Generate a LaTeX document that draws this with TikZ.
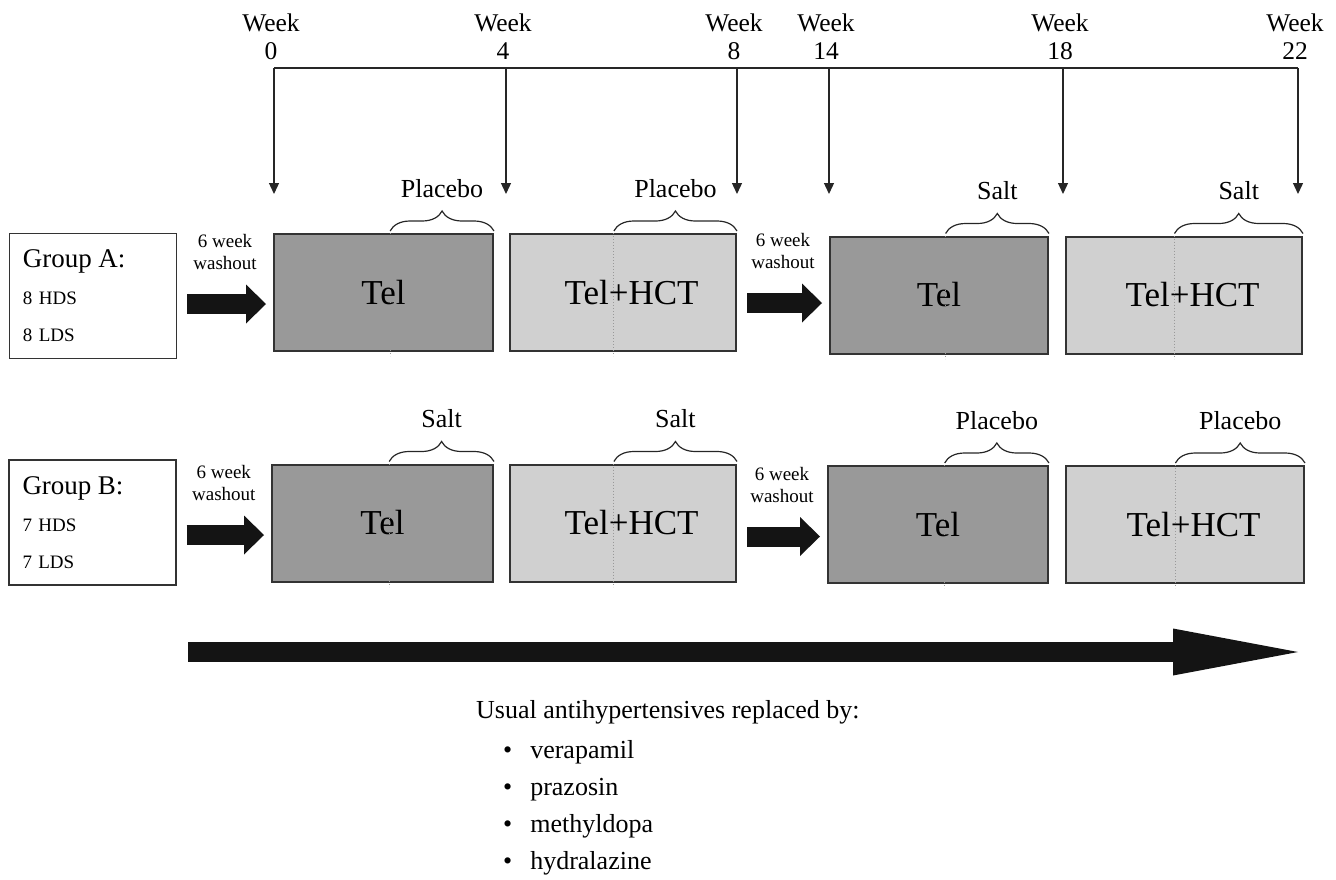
\documentclass[tikz,border=0pt]{standalone}
\usepackage{fontspec}
\setmainfont{Liberation Serif}
\usetikzlibrary{calc,positioning,arrows.meta,decorations.pathreplacing}
\definecolor{teldark}{RGB}{153,153,153}
\definecolor{hctlight}{RGB}{208,208,208}
\definecolor{edgegray}{RGB}{51,51,51}
\definecolor{blockblack}{RGB}{20,20,20}
\tikzset{
  grpbox/.style={draw=edgegray, line width=1.2pt, fill=white, minimum width=167pt, minimum height=125pt,
    text width=140pt, align=left, font=\fontsize{19}{37}\selectfont},
  telbox/.style={draw=edgegray, line width=2pt, fill=teldark, minimum height=117pt, font=\fontsize{35}{40}\selectfont},
  hctbox/.style={telbox, fill=hctlight},
  washout/.style={line width=20pt, blockblack, -{Triangle[length=20pt, width=39pt, line width=0pt]},
    shorten <=10pt, shorten >=7pt},
  washlbl/.style={midway, above=24pt, inner sep=0pt, align=center, black, font=\fontsize{19}{22}\selectfont},
  runarrow/.style={line width=20pt, blockblack, -{Triangle[length=125pt, width=47pt, line width=0pt]}},
  timeline/.style={line width=1.3pt, draw=black!85},
  weekarrow/.style={timeline, -{Triangle[length=11pt, width=10pt]}},
  wklabel/.style={align=center, inner sep=0pt, font=\fontsize{25.5}{28}\selectfont},
  curly/.style={decorate, decoration={brace, amplitude=20pt}, line width=1.2pt, draw=black!85},
  bracelbl/.style={midway, above=33pt, inner sep=0pt, font=\fontsize{26}{28}\selectfont},
  divider/.style={draw=black!40, dotted, line width=1pt},
  notes/.style={align=left, inner sep=0pt, font=\fontsize{26}{37}\selectfont}
}
\begin{document}
\begin{tikzpicture}[x=1pt, y=-1pt]
  \useasboundingbox (0,0) rectangle (1336,879);

  % week scale
  \coordinate (t0) at (274,68);
  \coordinate (t4) at (506,68);
  \coordinate (t8) at (737,68);
  \coordinate (t14) at (829,68);
  \coordinate (t18) at (1063,68);
  \coordinate (t22) at (1298,68);
  \coordinate (tipline) at (0,194);
  \node[wklabel, above=8pt of t0, xshift=-3pt] (wk0) {Week\\0};
  \node[wklabel, above=8pt of t4, xshift=-3pt] (wk4) {Week\\4};
  \node[wklabel, above=8pt of t8, xshift=-3pt] (wk8) {Week\\8};
  \node[wklabel, above=8pt of t14, xshift=-3pt] (wk14) {Week\\14};
  \node[wklabel, above=8pt of t18, xshift=-3pt] (wk18) {Week\\18};
  \node[wklabel, above=8pt of t22, xshift=-3pt] (wk22) {Week\\22};
  \draw[timeline] (t0) -- (t22);
  \draw[weekarrow] (t0) -- (t0 |- tipline);
  \draw[weekarrow] (t4) -- (t4 |- tipline);
  \draw[weekarrow] (t8) -- (t8 |- tipline);
  \draw[weekarrow] (t14) -- (t14 |- tipline);
  \draw[weekarrow] (t18) -- (t18 |- tipline);
  \draw[weekarrow] (t22) -- (t22 |- tipline);

  % group A
  \node[grpbox] (grpA) at (93,296) {{\fontsize{27}{37}\selectfont Group A:}\\8 HDS\\8 LDS};
  \node[telbox, minimum width=219pt] (telA1) at (383.5,292.5) {Tel};
  \node[hctbox, minimum width=226pt, right=15pt of telA1] (hctA1) {\hspace*{17pt}Tel+HCT};
  \node[telbox, minimum width=218pt] (telA2) at (939,295) {Tel};
  \node[hctbox, minimum width=236pt, right=16pt of telA2] (hctA2) {\hspace*{17pt}Tel+HCT};
  \draw[washout] ([yshift=-8pt]grpA.east) -- ([yshift=-11.5pt]telA1.west) node[washlbl] {6 week\\washout};
  \draw[washout] ([yshift=-10.5pt]hctA1.east) -- ([yshift=-8pt]telA2.west) node[washlbl] {6 week\\washout};

  % group B
  \node[grpbox] (grpB) at (92.5,522.5) {{\fontsize{27}{37}\selectfont Group B:}\\7 HDS\\7 LDS};
  \node[telbox, minimum width=221pt] (telB1) at (382.5,523) {Tel};
  \node[hctbox, minimum width=226pt, right=15pt of telB1] (hctB1) {\hspace*{17pt}Tel+HCT};
  \node[telbox, minimum width=220pt] (telB2) at (938,524.5) {Tel};
  \node[hctbox, minimum width=238pt, right=16pt of telB2] (hctB2) {\hspace*{17pt}Tel+HCT};
  \draw[washout] ([yshift=-12.5pt]grpB.east) -- ([yshift=-12pt]telB1.west) node[washlbl] {6 week\\washout};
  \draw[washout] ([yshift=-13.5pt]hctB1.east) -- ([yshift=-12pt]telB2.west) node[washlbl] {6 week\\washout};

  % split points of each period
  \coordinate (sA1) at ($(telA1.north west)!0.53!(telA1.north east)$);
  \coordinate (dA1) at ($(hctA1.north west)!0.46!(hctA1.north east)$);
  \coordinate (sA2) at ($(telA2.north west)!0.53!(telA2.north east)$);
  \coordinate (dA2) at ($(hctA2.north west)!0.46!(hctA2.north east)$);
  \coordinate (sB1) at ($(telB1.north west)!0.53!(telB1.north east)$);
  \coordinate (dB1) at ($(hctB1.north west)!0.46!(hctB1.north east)$);
  \coordinate (sB2) at ($(telB2.north west)!0.53!(telB2.north east)$);
  \coordinate (dB2) at ($(hctB2.north west)!0.46!(hctB2.north east)$);
  \draw[divider] (sA1) -- ($(sA1 |- telA1.south)+(0,4)$);
  \draw[divider] (dA1) -- ($(dA1 |- hctA1.south)+(0,4)$);
  \draw[divider] (sA2) -- ($(sA2 |- telA2.south)+(0,4)$);
  \draw[divider] (dA2) -- ($(dA2 |- hctA2.south)+(0,4)$);
  \draw[divider] (sB1) -- ($(sB1 |- telB1.south)+(0,4)$);
  \draw[divider] (dB1) -- ($(dB1 |- hctB1.south)+(0,4)$);
  \draw[divider] (sB2) -- ($(sB2 |- telB2.south)+(0,4)$);
  \draw[divider] (dB2) -- ($(dB2 |- hctB2.south)+(0,4)$);

  % braces
  \draw[curly] ([yshift=2pt]sA1) -- ([yshift=2pt]telA1.north east) node[bracelbl] {Placebo};
  \draw[curly] ([yshift=2pt]dA1) -- ([yshift=2pt]hctA1.north east) node[bracelbl] {Placebo};
  \draw[curly] ([yshift=2pt]sA2) -- ([yshift=2pt]telA2.north east) node[bracelbl] {Salt};
  \draw[curly] ([yshift=2pt]dA2) -- ([yshift=2pt]hctA2.north east) node[bracelbl] {Salt};
  \draw[curly] ([yshift=2pt]sB1) -- ([yshift=2pt]telB1.north east) node[bracelbl] {Salt};
  \draw[curly] ([yshift=2pt]dB1) -- ([yshift=2pt]hctB1.north east) node[bracelbl] {Salt};
  \draw[curly] ([yshift=2pt]sB2) -- ([yshift=2pt]telB2.north east) node[bracelbl] {Placebo};
  \draw[curly] ([yshift=2pt]dB2) -- ([yshift=2pt]hctB2.north east) node[bracelbl] {Placebo};

  % time arrow
  \coordinate (runS) at (188,652);
  \coordinate (runE) at (1298,652);
  \draw[runarrow] (runS) -- (runE);

  \node[notes, anchor=north west] (usual) at (476,700) {Usual antihypertensives replaced by:\\[3pt]
    \hspace*{27pt}\textbullet\hspace{18pt}verapamil\\
    \hspace*{27pt}\textbullet\hspace{18pt}prazosin\\
    \hspace*{27pt}\textbullet\hspace{18pt}methyldopa\\
    \hspace*{27pt}\textbullet\hspace{18pt}hydralazine};
\end{tikzpicture}
\end{document}
